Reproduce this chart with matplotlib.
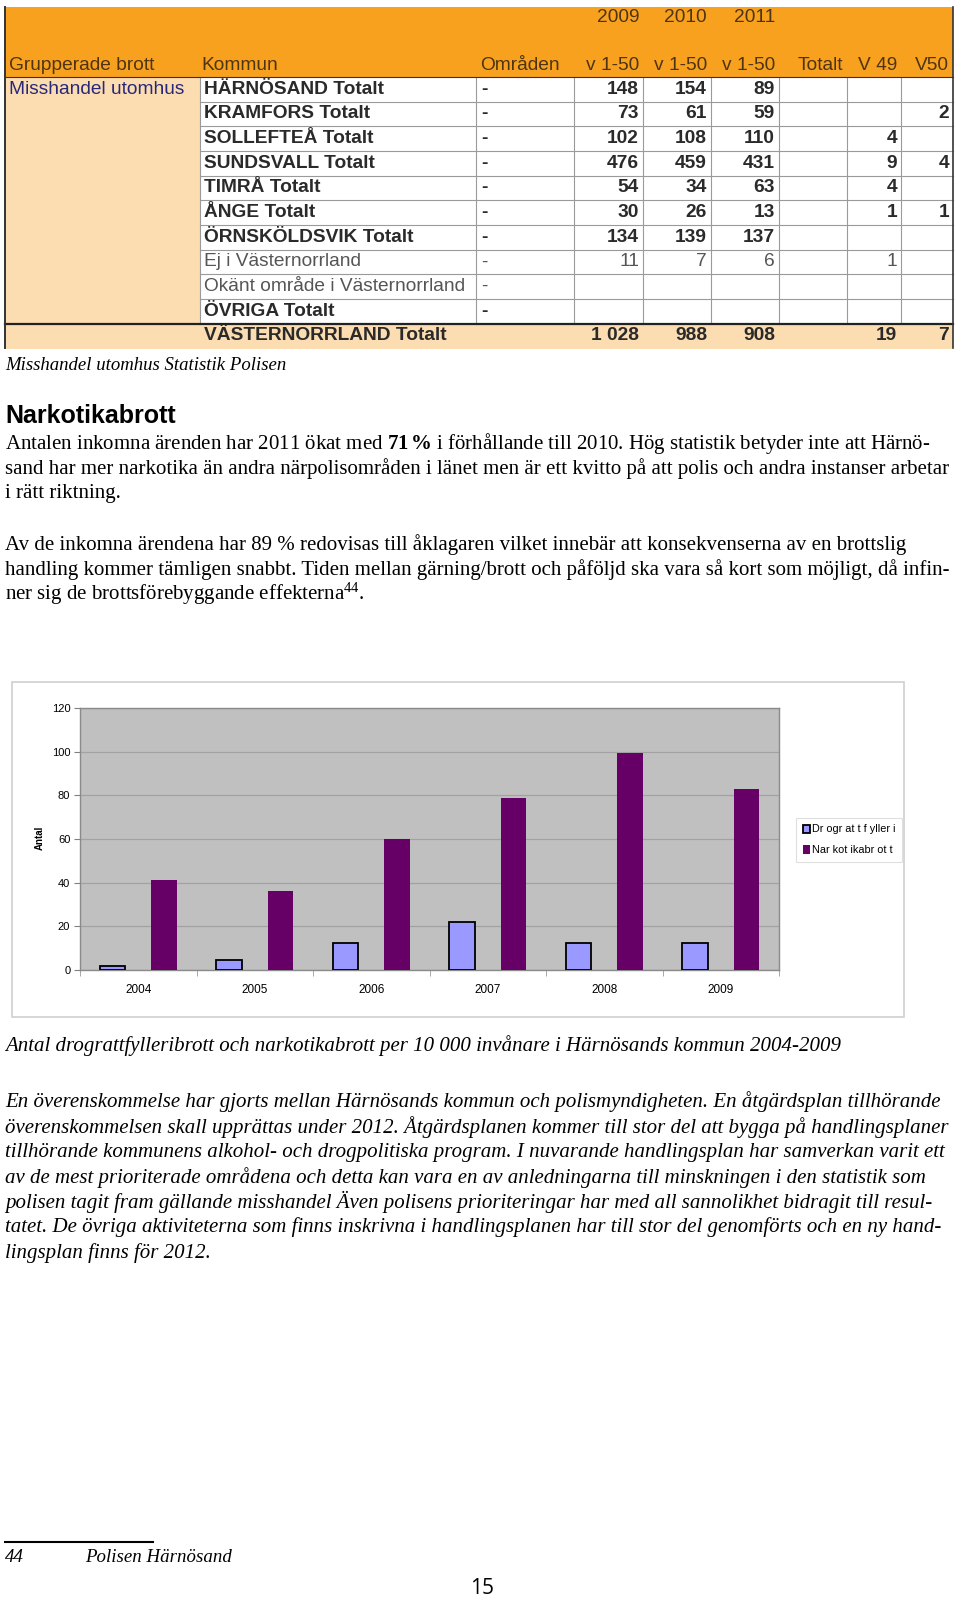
import numpy as np
import matplotlib.pyplot as plt
from matplotlib.patches import Rectangle
from matplotlib.lines import Line2D

# table: Misshandel utomhus per kommun
kommuner = ["HÄRNÖSAND Totalt", "KRAMFORS Totalt", "SOLLEFTEÅ Totalt", "SUNDSVALL Totalt",
            "TIMRÅ Totalt", "ÅNGE Totalt", "ÖRNSKÖLDSVIK Totalt", "Ej i Västernorrland",
            "Okänt område i Västernorrland", "ÖVRIGA Totalt"]
kommun_bold = [True, True, True, True, True, True, True, False, False, True]
v2009 = [148, 73, 102, 476, 54, 30, 134, 11, None, None]
v2010 = [154, 61, 108, 459, 34, 26, 139, 7, None, None]
v2011 = [89, 59, 110, 431, 63, 13, 137, 6, None, None]
totalt = [None] * 10
v49 = [None, None, 4, 9, 4, 1, None, 1, None, None]
v50 = [None, 2, None, 4, None, 1, None, None, None, None]
header_years = ["2009", "2010", "2011", "", "", ""]
header_cols = ["v 1-50", "v 1-50", "v 1-50", "Totalt", "V 49", "V50"]

# bar chart: per 10 000 invånare
years = ["2004", "2005", "2006", "2007", "2008", "2009"]
drograttfylleri = [2, 4.5, 12.5, 22, 12.5, 12.5]
narkotikabrott = [41, 36, 60, 79, 99.5, 83]
legend_labels = ["Dr ogr at t f yller i", "Nar kot ikabr ot t"]

W, H = 960, 1600
fig = plt.figure(figsize=(9.6, 16), dpi=100)
fig.patch.set_facecolor("white")

SANS = "Liberation Sans"
SERIF = "Liberation Serif"
plt.rcParams["mathtext.fontset"] = "custom"
plt.rcParams["mathtext.rm"] = SERIF
plt.rcParams["mathtext.it"] = SERIF + ":italic"
plt.rcParams["mathtext.bf"] = SERIF + ":bold"

# page layer in pixel coords (y down)
page = fig.add_axes([0, 0, 1, 1])
page.set_xlim(0, W)
page.set_ylim(H, 0)
page.axis("off")

# ---- table ----
orange = "#f8a11f"
peach = "#fcdcb1"
grid = "#9a9a9a"
TFS = 13.8
col_edges = [476, 574, 643, 711, 779, 847, 901, 953]
row_top = 77
row_h = 24.65
n = len(kommuner)
tot_top = row_top + n * row_h

page.add_patch(Rectangle((5, 7), 948, 70, color=orange, lw=0))
page.add_patch(Rectangle((5, row_top), 195, n * row_h, color=peach, lw=0))
page.add_patch(Rectangle((5, tot_top), 948, row_h + 0.5, color=peach, lw=0))

for i in range(1, n):
    y = row_top + i * row_h
    page.add_line(Line2D([200, 953], [y, y], color=grid, lw=0.8))
for x in [200] + col_edges[:-1]:
    page.add_line(Line2D([x, x], [row_top, tot_top], color=grid, lw=0.8))
page.add_line(Line2D([5, 953], [tot_top, tot_top], color="#222222", lw=1.6))
page.add_line(Line2D([5, 953], [row_top, row_top], color="#333333", lw=0.8))
page.add_line(Line2D([5, 5], [7, tot_top + row_h], color="#333333", lw=1.4))
page.add_line(Line2D([953, 953], [7, tot_top + row_h], color="#333333", lw=1.2))

hdr_col = "#4e3412"
page.text(9, 65, "Grupperade brott", fontsize=TFS, family=SANS, color=hdr_col, va="center")
page.text(201, 65, "Kommun", fontsize=TFS, family=SANS, color=hdr_col, va="center")
page.text(480, 65, "Områden", fontsize=TFS, family=SANS, color=hdr_col, va="center")
for j, (yr, hc) in enumerate(zip(header_years, header_cols)):
    xr = col_edges[j + 2] - 4
    if yr:
        page.text(xr, 18, yr, fontsize=TFS, family=SANS, color=hdr_col, ha="right", va="center")
    page.text(xr, 65, hc, fontsize=TFS, family=SANS, color=hdr_col, ha="right", va="center")

page.text(9, row_top + row_h / 2, "Misshandel utomhus", fontsize=TFS, family=SANS,
          color="#28287a", va="center")

value_cols = [v2009, v2010, v2011, totalt, v49, v50]
for i, name in enumerate(kommuner):
    yc = row_top + (i + 0.5) * row_h
    wt = "bold" if kommun_bold[i] else "normal"
    tc = "#2a2a2a" if kommun_bold[i] else "#555555"
    page.text(204, yc, name, fontsize=TFS, family=SANS, weight=wt, color=tc, va="center")
    page.text(481, yc, "-", fontsize=TFS, family=SANS, weight=wt, color=tc, va="center")
    for j, col in enumerate(value_cols):
        if col[i] is not None:
            page.text(col_edges[j + 2] - 4, yc, str(col[i]), fontsize=TFS, family=SANS,
                      weight=wt, color=tc, ha="right", va="center")

yc = tot_top + row_h / 2
page.text(204, yc, "VÄSTERNORRLAND Totalt", fontsize=TFS, family=SANS, weight="bold",
          color="#2a2a2a", va="center")
for j, col in enumerate(value_cols):
    vals = [v for v in col if v is not None]
    if vals:
        s = f"{sum(vals):,}".replace(",", " ")
        page.text(col_edges[j + 2] - 4, yc, s, fontsize=TFS, family=SANS, weight="bold",
                  color="#2a2a2a", ha="right", va="center")

# ---- texts ----
BFS = 15.0
page.text(5, 365, "Misshandel utomhus Statistik Polisen", fontsize=13.5, family=SERIF,
          style="italic", va="center")
page.text(5, 416, "Narkotikabrott", fontsize=18, family=SANS, weight="bold", va="center")

body1 = [
    "Antalen inkomna ärenden har 2011 ökat med $\\mathbf{71\\,\\%}$ i förhållande till 2010. Hög statistik betyder inte att Härnö-",
    "sand har mer narkotika än andra närpolisområden i länet men är ett kvitto på att polis och andra instanser arbetar",
    "i rätt riktning.",
]
body2 = [
    "Av de inkomna ärendena har 89 % redovisas till åklagaren vilket innebär att konsekvenserna av en brottslig",
    "handling kommer tämligen snabbt. Tiden mellan gärning/brott och påföljd ska vara så kort som möjligt, då infin-",
    "ner sig de brottsförebyggande effekterna$^{44}$.",
]
for k, line in enumerate(body1):
    page.text(5, 443 + k * 25.2, line, fontsize=BFS, family=SERIF, va="center")
for k, line in enumerate(body2):
    page.text(5, 545 + k * 24.6, line, fontsize=BFS, family=SERIF, va="center")

page.text(5, 1046, "Antal drograttfylleribrott och narkotikabrott per 10 000 invånare i Härnösands kommun 2004-2009",
          fontsize=BFS, family=SERIF, style="italic", va="center")

body3 = [
    "En överenskommelse har gjorts mellan Härnösands kommun och polismyndigheten. En åtgärdsplan tillhörande",
    "överenskommelsen skall upprättas under 2012. Åtgärdsplanen kommer till stor del att bygga på handlingsplaner",
    "tillhörande kommunens alkohol- och drogpolitiska program. I nuvarande handlingsplan har samverkan varit ett",
    "av de mest prioriterade områdena och detta kan vara en av anledningarna till minskningen i den statistik som",
    "polisen tagit fram gällande misshandel Även polisens prioriteringar har med all sannolikhet bidragit till resul-",
    "tatet. De övriga aktiviteterna som finns inskrivna i handlingsplanen har till stor del genomförts och en ny hand-",
    "lingsplan finns för 2012.",
]
for k, line in enumerate(body3):
    page.text(5, 1102 + k * 25.1, line, fontsize=BFS, family=SERIF, style="italic", va="center")

page.add_line(Line2D([5, 153], [1542, 1542], color="black", lw=1.5))
page.text(5, 1558, "44", fontsize=13.6, family=SERIF, style="italic", va="center")
page.text(85, 1558, "Polisen Härnösand", fontsize=13.6, family=SERIF, style="italic", va="center")
page.text(470, 1588, "15", fontsize=15, family="Open Sans", va="center")

# chart outer frame
page.add_patch(Rectangle((12, 682), 892, 335, fill=False, edgecolor="#cfcfcf", lw=1.2))
page.text(40, 838, "Antal", fontsize=7, family=SANS, weight="bold", rotation=90,
          ha="center", va="center")

# ---- bar chart ----
ax = fig.add_axes([80 / W, 1 - 970 / H, 699 / W, 262 / H])
x = np.arange(len(years))
bw = 0.22
b1 = ax.bar(x - bw, drograttfylleri, bw, color="#9999ff", edgecolor="black", lw=1.3, zorder=3)
b2 = ax.bar(x + bw, narkotikabrott, bw, color="#660066", lw=0, zorder=3)
ax.set_xlim(-0.5, len(years) - 0.5)
ax.set_ylim(0, 120)
ax.set_facecolor("#c0c0c0")
ax.set_yticks(np.arange(0, 121, 20))
ax.yaxis.grid(True, color="#a2a2a2", lw=0.9)
ax.set_axisbelow(True)
ax.set_xticks(x, years)
ax.set_xticks(np.arange(-0.5, len(years), 1), minor=True)
ax.tick_params(axis="x", which="major", length=0, pad=10, labelsize=8.5)
ax.tick_params(axis="x", which="minor", length=4, color="#9a9a9a")
ax.tick_params(axis="y", length=4, color="#808080", pad=3, labelsize=8)
for lab in ax.get_xticklabels() + ax.get_yticklabels():
    lab.set_family(SANS)
for sp in ax.spines.values():
    sp.set_color("#8a8a8a")
    sp.set_linewidth(1.0)

leg = ax.legend([b1, b2], legend_labels, loc="upper left",
                bbox_to_anchor=(796 / W, 1 - 818 / H), bbox_transform=fig.transFigure,
                fontsize=7.8, frameon=True, fancybox=False, edgecolor="#d8d8d8",
                handlelength=0.7, handleheight=0.8, handletextpad=0.2,
                borderpad=0.6, labelspacing=1.0, borderaxespad=0)
leg.get_frame().set_linewidth(0.8)
for t in leg.get_texts():
    t.set_family(SANS)

fig.savefig("out.png", dpi=100)
